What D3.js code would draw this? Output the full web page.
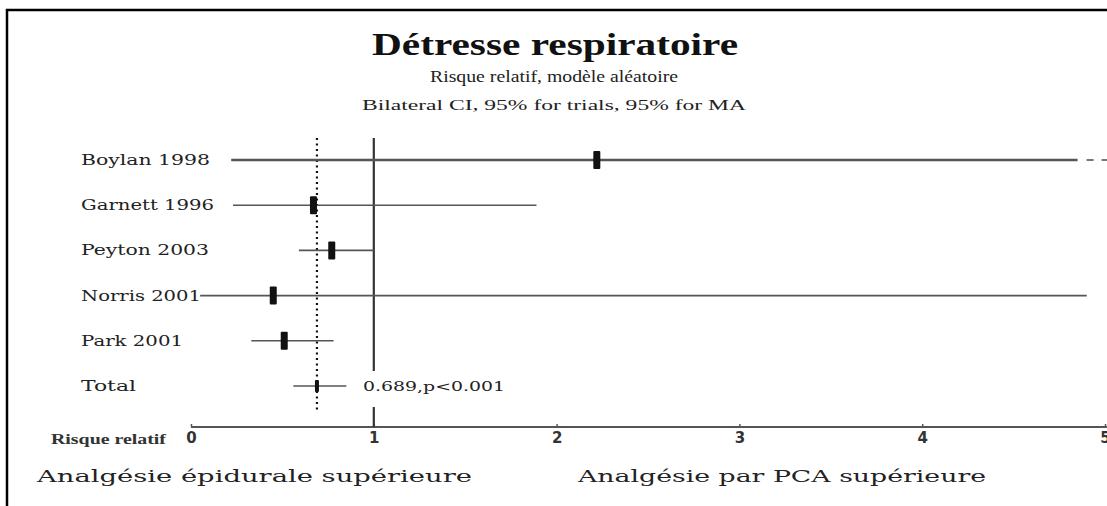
<!DOCTYPE html>
<html><head><meta charset="utf-8">
<script src="https://cdn.jsdelivr.net/npm/d3@7/dist/d3.min.js"></script>
<style>body{margin:0;background:#fff}svg{display:block}</style>
</head><body>
<script>
const studies = ["Boylan 1998","Garnett 1996","Peyton 2003","Norris 2001","Park 2001","Total"];
const rr      = [2.22, 0.67, 0.77, 0.45, 0.51, 0.689];
const lower   = [0.22, 0.23, 0.59, 0.05, 0.33, 0.56];
const upper   = [6.5, 1.89, 1.0, 4.9, 0.78, 0.85];
const tickValues = [0,1,2,3,4,5];
const pooled = 0.689;
const pooledText = "0.689,p<0.001";
const titleText = "Détresse respiratoire";
const sub1 = "Risque relatif, modèle aléatoire";
const sub2 = "Bilateral CI, 95% for trials, 95% for MA";
const leftLabel = "Analgésie épidurale supérieure";
const rightLabel = "Analgésie par PCA supérieure";

const W = 1107, H = 506;
const svg = d3.select("body").append("svg").attr("width", W).attr("height", H);
const serif = "'Liberation Serif', 'Times New Roman', serif";
const wide = "'DejaVu Serif', serif";

// frame
svg.append("path").attr("d", `M7,${H} L7,10 L${W},10`).attr("fill","none").attr("stroke","#000").attr("stroke-width",2.5);

const x = d3.scaleLinear().domain([0,5]).range([191,1105]);
const y = d3.scalePoint().domain(studies).range([160,386]);

// titles
svg.append("text").attr("x",555).attr("y",55).attr("text-anchor","middle")
  .attr("font-family",serif).attr("font-weight","bold").attr("font-size",32)
  .attr("textLength",366).attr("lengthAdjust","spacingAndGlyphs").attr("fill","#111").text(titleText);
svg.append("text").attr("x",554).attr("y",82).attr("text-anchor","middle")
  .attr("font-family",serif).attr("font-size",16).attr("textLength",248).attr("lengthAdjust","spacingAndGlyphs").attr("fill","#222").text(sub1);
svg.append("text").attr("x",554).attr("y",110).attr("text-anchor","middle")
  .attr("font-family",serif).attr("font-size",14.5).attr("textLength",384).attr("lengthAdjust","spacingAndGlyphs").attr("fill","#222").text(sub2);

// reference line at 1
svg.append("line").attr("x1",x(1)).attr("x2",x(1)).attr("y1",138).attr("y2",371)
  .attr("stroke","#333").attr("stroke-width",2.2);
// pooled dotted line
svg.append("line").attr("x1",x(pooled)).attr("x2",x(pooled)).attr("y1",138).attr("y2",411)
  .attr("stroke","#111").attr("stroke-width",2.2).attr("stroke-dasharray","2,3.5");

// study labels
const labelW = [129,133,128,120,102,55];
svg.selectAll(".lab").data(studies).join("text").attr("class","lab")
  .attr("x",81).attr("y",d=>y(d)+5).attr("font-family",wide).attr("font-size",14.5)
  .attr("textLength",(d,i)=>labelW[i]).attr("lengthAdjust","spacingAndGlyphs")
  .attr("fill","#222").text(d=>d);

// CI lines
const xmax = 5;
const cutoff = 4.85;
studies.forEach((s,i)=>{
  const lo = x(lower[i]);
  const hiVal = upper[i];
  if (hiVal > xmax) {
    svg.append("line").attr("x1",lo).attr("x2",x(cutoff)).attr("y1",y(s)).attr("y2",y(s))
      .attr("stroke","#555").attr("stroke-width",2.4);
    svg.append("line").attr("x1",x(cutoff)+9).attr("x2",x(xmax)+2).attr("y1",y(s)).attr("y2",y(s))
      .attr("stroke","#777").attr("stroke-width",2.2).attr("stroke-dasharray","7,8");
  } else {
    svg.append("line").attr("x1",lo).attr("x2",x(hiVal)).attr("y1",y(s)).attr("y2",y(s))
      .attr("stroke","#555").attr("stroke-width",i===0?2.4:1.6);
  }
});
// markers
svg.selectAll(".pt").data(studies).join("rect").attr("class","pt")
  .attr("x",(d,i)=>x(rr[i]) - (i===5?2:3.5))
  .attr("width",(d,i)=>i===5?4:7)
  .attr("y",(d,i)=>y(d) - (i===5?6:9))
  .attr("height",(d,i)=>i===5?12:18)
  .attr("rx",1).attr("fill","#111");

svg.append("text").attr("x",363).attr("y",y("Total")+5).attr("font-family",wide).attr("font-size",13.5)
  .attr("textLength",142).attr("lengthAdjust","spacingAndGlyphs").attr("fill","#222").text(pooledText);

// axis
const axis = d3.axisBottom(x).tickValues(tickValues).tickSize(-3).tickFormat(d3.format("d"));
const g = svg.append("g").attr("transform","translate(0,427)").call(axis);
g.attr("font-size",15).attr("font-family","'DejaVu Sans', sans-serif");
g.select(".domain").attr("stroke","#555").attr("stroke-width",2).attr("d","M191,0H1107");
g.selectAll(".tick line").attr("stroke","#555").attr("stroke-width",1.5);
g.selectAll(".tick text")
  .attr("font-size",15).attr("font-family","'DejaVu Sans', sans-serif").attr("font-weight","bold")
  .attr("fill","#333").attr("dy","0.8em").attr("y",4);
// tick at 1 (longer)
svg.append("line").attr("x1",x(1)).attr("x2",x(1)).attr("y1",407).attr("y2",427).attr("stroke","#333").attr("stroke-width",2.2);

svg.append("text").attr("x",51).attr("y",444).attr("font-family",serif).attr("font-weight","bold")
  .attr("font-size",15.5).attr("textLength",115).attr("lengthAdjust","spacingAndGlyphs").attr("fill","#333").text("Risque relatif");

svg.append("text").attr("x",37).attr("y",482).attr("font-family",wide).attr("font-size",17)
  .attr("textLength",435).attr("lengthAdjust","spacingAndGlyphs").attr("fill","#222").text(leftLabel);
svg.append("text").attr("x",578).attr("y",482).attr("font-family",wide).attr("font-size",17)
  .attr("textLength",408).attr("lengthAdjust","spacingAndGlyphs").attr("fill","#222").text(rightLabel);
</script>
</body></html>
